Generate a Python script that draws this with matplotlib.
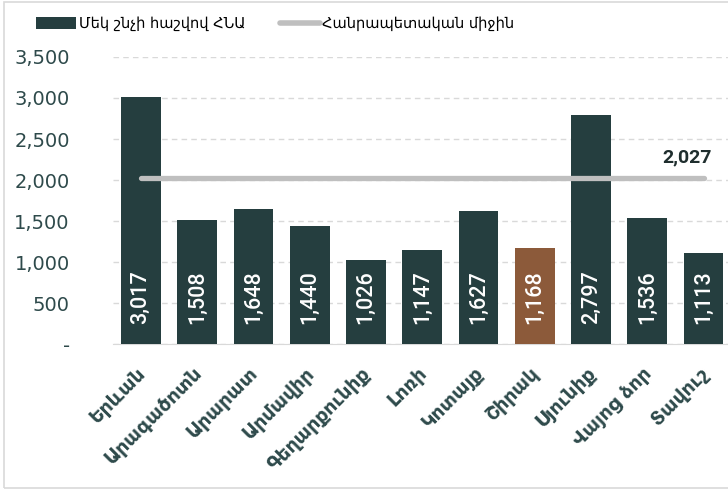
import matplotlib.pyplot as plt
import matplotlib.ticker as mticker
import matplotlib.transforms as mtransforms
from matplotlib.patches import Rectangle
from matplotlib.lines import Line2D
from matplotlib.patches import Patch

#
# Data
#
regions = ['Երևան', 'Արագածոտն', 'Արարատ', 'Արմավիր', 'Գեղարքունիք', 'Լոռի',
           'Կոտայք', 'Շիրակ', 'Սյունիք', 'Վայոց ձոր', 'Տավուշ']
gdp_per_capita = [3017, 1508, 1648, 1440, 1026, 1147, 1627, 1168, 2797, 1536, 1113]
national_average = 2027
highlight = 'Շիրակ'

bar_label = 'Մեկ շնչի հաշվով ՀՆԱ'
avg_label = 'Հանրապետական միջին'

# Colours
bar_color = '#253e3f'
highlight_color = '#8c5a3a'
avg_color = '#bfbfbf'
text_color = '#2e4a4b'

plt.rcParams['font.family'] = ['DejaVu Sans']

fig = plt.figure(figsize=(7.28, 4.91), dpi=100)
ax = fig.add_axes([0.155, 0.299, 0.85, 0.585])

x = list(range(len(regions)))
colors = [highlight_color if r == highlight else bar_color for r in regions]
ax.bar(x, gdp_per_capita, width=0.71, color=colors, zorder=3)

# Values inside the bars
for xi, v in zip(x, gdp_per_capita):
    ax.text(xi, 250, f'{v:,}', rotation=90, ha='center', va='bottom',
            color='white', fontsize=15.5, fontweight='medium', zorder=4,
            family=['Roboto', 'DejaVu Sans'])

# National average line
ax.plot([x[0], x[-1]], [national_average, national_average], color=avg_color,
        lw=3.8, solid_capstyle='round', zorder=5)
ax.annotate(f'{national_average:,}', xy=(x[-1] + 0.15, national_average),
            xytext=(0, 8), textcoords='offset points', ha='right', va='bottom',
            fontsize=14, fontweight='bold', color='#1f2e2e',
            family=['Roboto', 'DejaVu Sans'])

ax.set_xlim(-0.5, len(regions) - 0.5)
ax.set_ylim(0, 3500)
ax.yaxis.set_major_locator(mticker.MultipleLocator(500))
ax.yaxis.set_major_formatter(mticker.FuncFormatter(lambda v, p: '-' if v == 0 else f'{int(v):,}'))
ax.grid(axis='y', color='#d9d9d9', linestyle=(0, (4, 3)), lw=1, zorder=0)

ax.set_xticks(x)
ax.set_xticklabels(regions, rotation=45, ha='right', rotation_mode='anchor',
                   fontsize=13.5, fontweight='bold', color=text_color)
ax.tick_params(axis='x', length=0, pad=14)
shift = mtransforms.ScaledTranslation(-5 / 100, 0, fig.dpi_scale_trans)
for lbl in ax.get_xticklabels():
    lbl.set_transform(lbl.get_transform() + shift)
ax.tick_params(axis='y', length=0, pad=31, labelsize=14, labelcolor=text_color)
for lbl in ax.get_yticklabels():
    lbl.set_horizontalalignment('right')

for s in ['top', 'right', 'left']:
    ax.spines[s].set_visible(False)
ax.spines['bottom'].set_color('#d9d9d9')

# Legend
handles = [Patch(facecolor=bar_color, label=bar_label),
           Line2D([0], [0], color=avg_color, lw=4, solid_capstyle='round', label=avg_label)]
fig.legend(handles=handles, loc='center left', bbox_to_anchor=(0.05, 0.952), ncol=2,
           frameon=False, fontsize=10.5, handlelength=2.7, handleheight=0.8,
           handletextpad=0.2, columnspacing=2.4, borderaxespad=0, borderpad=0)

# Thin border round the figure
fig.patches.append(Rectangle((0.005, 0.006), 1.2, 0.99, transform=fig.transFigure,
                             fill=False, edgecolor='#d9d9d9', lw=1.2))

fig.savefig('out.png', dpi=100)
